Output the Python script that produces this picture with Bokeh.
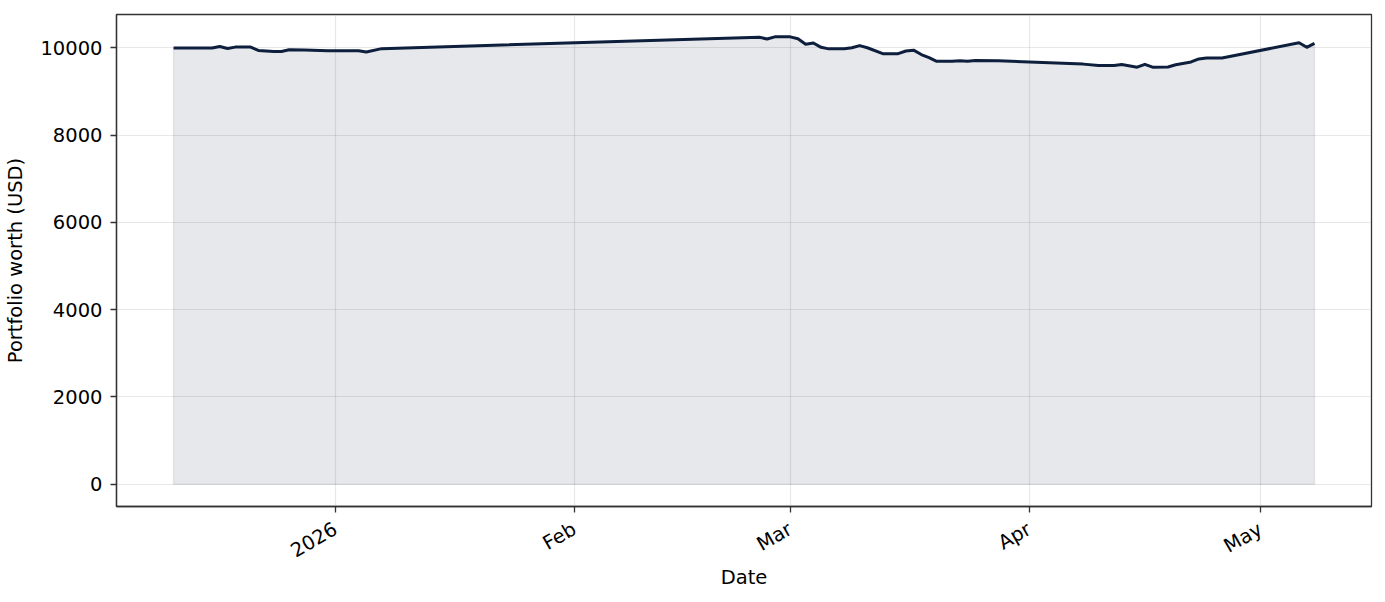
import math
import pandas as pd
from bokeh.plotting import figure
from bokeh.models import FixedTicker, Range1d
from bokeh.embed import file_html
from bokeh.resources import INLINE

# ---- data ----
dates = [
    "2025-12-11", "2025-12-16", "2025-12-17", "2025-12-18", "2025-12-19",
    "2025-12-21", "2025-12-22", "2025-12-24", "2025-12-25", "2025-12-26",
    "2025-12-28", "2025-12-31", "2026-01-04", "2026-01-05", "2026-01-07",
    "2026-02-25", "2026-02-26", "2026-02-27", "2026-03-01", "2026-03-02",
    "2026-03-03", "2026-03-04", "2026-03-05", "2026-03-06", "2026-03-08",
    "2026-03-09", "2026-03-10", "2026-03-11", "2026-03-13", "2026-03-15",
    "2026-03-16", "2026-03-17", "2026-03-18", "2026-03-19", "2026-03-20",
    "2026-03-22", "2026-03-23", "2026-03-24", "2026-03-25", "2026-03-28",
    "2026-04-08", "2026-04-10", "2026-04-12", "2026-04-13", "2026-04-15",
    "2026-04-16", "2026-04-17", "2026-04-19", "2026-04-20", "2026-04-22",
    "2026-04-23", "2026-04-24", "2026-04-26", "2026-04-27", "2026-05-06",
    "2026-05-07", "2026-05-08",
]
worth = [
    10000, 10000, 10035, 9990, 10020,
    10020, 9945, 9920, 9920, 9960,
    9955, 9935, 9935, 9910, 9985,
    10245, 10205, 10255, 10255, 10210,
    10085, 10115, 10015, 9980, 9980,
    10005, 10055, 10005, 9870, 9870,
    9930, 9950, 9850, 9780, 9695,
    9695, 9710, 9695, 9715, 9705,
    9630, 9600, 9600, 9620, 9560,
    9625, 9560, 9565, 9615, 9680,
    9750, 9770, 9770, 9805, 10120,
    10015, 10105,
]
tick_dates = ["2026-01-01", "2026-02-01", "2026-03-01", "2026-04-01", "2026-05-01"]
tick_labels = ["2026", "Feb", "Mar", "Apr", "May"]
y_ticks = [0, 2000, 4000, 6000, 8000, 10000]

# ---- derived ----
def to_ms(s):
    return int(pd.Timestamp(s).value // 10**6)

xs = [to_ms(d) for d in dates]
tx = [to_ms(d) for d in tick_dates]

x0, x1 = min(xs), max(xs)
xpad = (x1 - x0) * 0.05
ymax = max(worth)
ypad = ymax * 0.05

FONT = "DejaVu Sans"
NAVY = "#0d1f3c"
AX = "#333333"
FS = "19.5px"

p = figure(width=1385, height=602, x_axis_type="datetime",
           output_backend="svg", toolbar_location=None,
           x_range=Range1d(x0 - xpad, x1 + xpad),
           y_range=Range1d(-ypad, ymax + ypad),
           min_border_left=116, min_border_right=14,
           min_border_top=14, min_border_bottom=96)

p.background_fill_color = "white"
p.border_fill_color = "white"
p.outline_line_color = AX
p.outline_line_width = 1.3

# filled area
p.varea(x=xs, y1=[0] * len(xs), y2=worth, fill_color=NAVY, fill_alpha=0.1)
px = [xs[0]] + xs + [xs[-1]]
py = [0] + worth + [0]
p.line(x=px + [xs[0]], y=py + [0], line_color=NAVY, line_alpha=0.08, line_width=1.5)
p.line(x=xs, y=worth, line_color=NAVY, line_width=3, line_join="round")

# axes
p.xaxis.ticker = FixedTicker(ticks=tx)
p.xaxis.major_label_overrides = {t: l for t, l in zip(tx, tick_labels)}
p.xaxis.major_label_orientation = math.pi / 6
p.yaxis.ticker = FixedTicker(ticks=y_ticks)
p.yaxis.formatter.use_scientific = False

p.xaxis.axis_label = "Date"
p.yaxis.axis_label = "Portfolio worth (USD)"

for ax in (p.xaxis[0], p.yaxis[0]):
    ax.axis_line_color = AX
    ax.axis_line_width = 1.3
    ax.major_tick_line_color = AX
    ax.major_tick_line_width = 1.3
    ax.major_tick_out = 6
    ax.major_tick_in = 0
    ax.minor_tick_out = 0
    ax.minor_tick_in = 0
    ax.major_label_text_font = FONT
    ax.major_label_text_font_size = FS
    ax.major_label_text_color = "black"
    ax.axis_label_text_font = FONT
    ax.axis_label_text_font_size = FS
    ax.axis_label_text_font_style = "normal"
    ax.axis_label_text_color = "black"

p.yaxis.major_label_standoff = 8
p.xaxis.major_label_standoff = 15
p.xaxis.axis_label_standoff = -9
p.yaxis.axis_label_standoff = 10

for g in (p.xgrid[0], p.ygrid[0]):
    g.grid_line_color = "#b0b0b0"
    g.grid_line_alpha = 0.3
    g.grid_line_width = 1.2

p.xgrid.ticker = FixedTicker(ticks=tx)
p.ygrid.ticker = FixedTicker(ticks=y_ticks)

open("out.html", "w").write(file_html(p, INLINE))
